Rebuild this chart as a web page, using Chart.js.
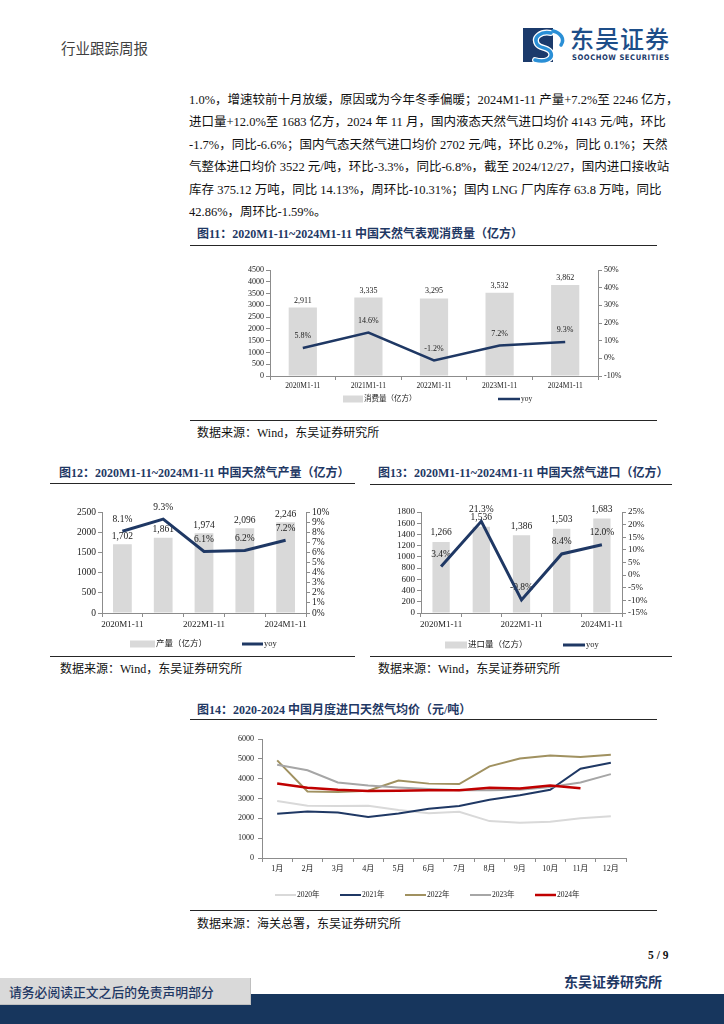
<!DOCTYPE html>
<html>
<head>
<meta charset="utf-8">
<script src="https://cdn.jsdelivr.net/npm/chart.js@4.4.1/dist/chart.umd.min.js"></script>
<style>
  body { margin: 0; width: 724px; height: 1024px; position: relative; overflow: hidden; background: #fff;
         font-family: 'Liberation Serif', 'Noto Sans CJK SC', serif; color: #111; }
  .abs { position: absolute; }
  .txt { position: absolute; left: 189px; width: 468px; font-size: 12.5px; line-height: 16px; white-space: nowrap;
         text-align: justify; text-align-last: justify; }
  .title { position: absolute; font-size: 12px; line-height: 16px; font-weight: bold; color: #1f3864; white-space: nowrap; }
  .rule { position: absolute; height: 0; border-top: 1.5px solid #262626; }
  .src { position: absolute; font-size: 12px; line-height: 16px; white-space: nowrap; color: #111; }
  canvas { position: absolute; }
</style>
</head>
<body>

<!-- header -->
<div class="abs" style="left:61px;top:37px;font-size:14.5px;color:#3f3f3f;font-family:'Noto Sans CJK SC';">行业跟踪周报</div>
<svg class="abs" style="left:521px;top:27px" width="46" height="36" viewBox="0 0 46 36">
  <rect x="2" y="1" width="30" height="34" fill="#1b3a6b"/>
  <path d="M30 6 C20 4 12 10 16 17 C19 22 28 20 30 26 C32 32 24 36 14 33" fill="none" stroke="#fff" stroke-width="6" stroke-linecap="round"/>
  <path d="M30 6 C20 4 12 10 16 17 C19 22 28 20 30 26 C32 32 24 36 14 33" fill="none" stroke="#2a8fd6" stroke-width="3.5" stroke-linecap="round"/>
  <path d="M32 4 C40 6 44 12 40 18" fill="none" stroke="#2a8fd6" stroke-width="3.5" stroke-linecap="round"/>
</svg>
<div class="abs" style="left:570px;top:24px;font-size:24px;line-height:28px;color:#1d4e89;font-family:'Noto Sans CJK SC';font-weight:500;letter-spacing:1px;">东吴证券</div>
<div class="abs" style="left:572px;top:53px;font-size:7.6px;line-height:9px;color:#1b3a6b;font-family:'DejaVu Sans Condensed','DejaVu Sans';font-weight:bold;letter-spacing:0.55px;">SOOCHOW SECURITIES</div>

<!-- body text -->
<div class="txt" style="top:92px">1.0%，增速较前十月放缓，原因或为今年冬季偏暖；2024M1-11 产量+7.2%至 2246 亿方，</div>
<div class="txt" style="top:114px">进口量+12.0%至 1683 亿方，2024 年 11 月，国内液态天然气进口均价 4143 元/吨，环比</div>
<div class="txt" style="top:137px">-1.7%，同比-6.6%；国内气态天然气进口均价 2702 元/吨，环比 0.2%，同比 0.1%；天然</div>
<div class="txt" style="top:159px">气整体进口均价 3522 元/吨，环比-3.3%，同比-6.8%，截至 2024/12/27，国内进口接收站</div>
<div class="txt" style="top:182px">库存 375.12 万吨，同比 14.13%，周环比-10.31%；国内 LNG 厂内库存 63.8 万吨，同比</div>
<div class="txt" style="top:204px;text-align:left;text-align-last:left">42.86%，周环比-1.59%。</div>

<!-- figure 11 -->
<div class="title" style="left:197px;top:226px">图11：2020M1-11~2024M1-11 中国天然气表观消费量（亿方）</div>
<div class="rule" style="left:190px;width:467px;top:245px"></div>
<canvas id="c11" width="466" height="165" style="left:191px;top:250px"></canvas>
<div class="rule" style="left:190px;width:467px;top:420px"></div>
<div class="src" style="left:197px;top:425px">数据来源：Wind，东吴证券研究所</div>

<!-- figure 12 -->
<div class="title" style="left:59px;top:465px">图12：2020M1-11~2024M1-11 中国天然气产量（亿方）</div>
<div class="rule" style="left:50px;width:305px;top:483px"></div>
<canvas id="c12" width="300" height="165" style="left:55px;top:490px"></canvas>
<div class="rule" style="left:50px;width:305px;top:656px"></div>
<div class="src" style="left:60px;top:661px">数据来源：Wind，东吴证券研究所</div>

<!-- figure 13 -->
<div class="title" style="left:378px;top:465px">图13：2020M1-11~2024M1-11 中国天然气进口（亿方）</div>
<div class="rule" style="left:370px;width:302px;top:484px"></div>
<canvas id="c13" width="300" height="165" style="left:372px;top:490px"></canvas>
<div class="rule" style="left:370px;width:302px;top:656px"></div>
<div class="src" style="left:378px;top:661px">数据来源：Wind，东吴证券研究所</div>

<!-- figure 14 -->
<div class="title" style="left:197px;top:702px">图14：2020-2024 中国月度进口天然气均价（元/吨）</div>
<div class="rule" style="left:190px;width:467px;top:719px"></div>
<canvas id="c14" width="466" height="185" style="left:191px;top:724px"></canvas>
<div class="rule" style="left:190px;width:467px;top:910px"></div>
<div class="src" style="left:197px;top:916px">数据来源：海关总署，东吴证券研究所</div>

<!-- footer -->
<div class="abs" style="left:648px;top:949px;font-size:11.5px;font-weight:bold;">5 / 9</div>
<div class="abs" style="left:0;top:994px;width:724px;height:30px;background:#17365d"></div>
<div class="abs" style="left:0;top:978px;width:250px;height:26px;background:#d9d9d9;border-right:1px solid #bfbfbf;border-bottom:1px solid #bfbfbf"></div>
<div class="abs" style="left:9px;top:983px;font-size:12.8px;line-height:17px;color:#1f3864;font-family:'Noto Sans CJK SC';font-weight:500;">请务必阅读正文之后的免责声明部分</div>
<div class="abs" style="left:564px;top:972px;font-size:14px;line-height:19px;color:#1f3864;font-family:'Noto Sans CJK SC';font-weight:bold;">东吴证券研究所</div>

<script>
// ---- data ----
const cats = ['2020M1-11', '2021M1-11', '2022M1-11', '2023M1-11', '2024M1-11'];
const consumption = [2911, 3335, 3295, 3532, 3862];
const consumptionYoy = [5.8, 14.6, -1.2, 7.2, 9.3];
const production = [1702, 1861, 1974, 2096, 2246];
const productionYoy = [8.1, 9.3, 6.1, 6.2, 7.2];
const imports = [1266, 1536, 1386, 1503, 1683];
const importsYoy = [3.4, 21.3, -9.8, 8.4, 12.0];

const months = ['1月', '2月', '3月', '4月', '5月', '6月', '7月', '8月', '9月', '10月', '11月', '12月'];
const price2020 = [2870, 2640, 2620, 2640, 2420, 2260, 2330, 1860, 1780, 1830, 2000, 2100];
const price2021 = [2230, 2350, 2290, 2070, 2240, 2480, 2620, 2940, 3160, 3440, 4500, 4800];
const price2022 = [4920, 3350, 3330, 3390, 3910, 3750, 3730, 4620, 5020, 5170, 5090, 5210];
const price2023 = [4700, 4420, 3810, 3660, 3560, 3480, 3410, 3410, 3440, 3580, 3810, 4230];
const price2024 = [3760, 3540, 3440, 3380, 3390, 3410, 3420, 3540, 3510, 3660, 3520, null];

const FONT = "'Liberation Serif', 'Noto Sans CJK SC'";
const BAR = '#d9d9d9';
const NAVY = '#1f3864';
const AXIS = '#8c8c8c';

// value labels, drawn right after the bars so the line passes over them
const valueLabels = {
    id: 'valueLabels',
    afterDatasetDraw(chart, args) {
        if (args.index !== 0) return;
        const ctx = chart.ctx;
        chart.data.datasets.forEach((ds, i) => {
            if (!ds.labelFmt) return;
            const meta = chart.getDatasetMeta(i);
            ctx.save();
            ctx.font = ds.labelFont;
            ctx.fillStyle = '#1a1a1a';
            ctx.textAlign = 'center';
            ctx.textBaseline = 'middle';
            meta.data.forEach((el, j) => {
                ctx.fillText(ds.labelFmt(ds.data[j]), el.x, el.y - ds.labelGap);
            });
            ctx.restore();
        });
    }
};

// flat legend with fixed item positions
const flatLegend = {
    id: 'flatLegend',
    afterDraw(chart, args, opts) {
        if (!opts || !opts.items) return;
        const ctx = chart.ctx;
        chart.data.datasets.forEach((ds, i) => {
            const it = opts.items[i];
            ctx.save();
            if (ds.type === 'bar') {
                ctx.fillStyle = ds.backgroundColor;
                ctx.fillRect(it.x, opts.y - it.h / 2, it.w, it.h);
            } else {
                ctx.strokeStyle = ds.borderColor;
                ctx.lineWidth = ds.borderWidth;
                ctx.beginPath();
                ctx.moveTo(it.x, opts.y);
                ctx.lineTo(it.x + it.w, opts.y);
                ctx.stroke();
            }
            ctx.font = opts.font;
            ctx.fillStyle = '#1a1a1a';
            ctx.textAlign = 'left';
            ctx.textBaseline = 'middle';
            ctx.fillText(ds.label, it.x + it.w + 1, opts.y);
            ctx.restore();
        });
    }
};

Chart.register(valueLabels, flatLegend);

function axisBase(fontSize) {
    return {
        grid: { drawOnChartArea: false, drawTicks: true, tickLength: 4, color: AXIS },
        border: { color: AXIS, width: 1 },
        ticks: { font: { family: FONT, size: fontSize }, color: '#1a1a1a', padding: 2, autoSkip: false }
    };
}

function comboChart(id, c) {
    const x = axisBase(c.xFont);
    x.grid.offset = true;
    x.ticks.maxRotation = 0;
    x.ticks.callback = (v, i) => (c.everyOther && i % 2) ? '' : cats[i];
    x.afterFit = s => { s.height = c.xh; };

    const y = axisBase(c.tickFont);
    Object.assign(y, { position: 'left', min: c.yMin, max: c.yMax });
    y.ticks.stepSize = c.yStep;
    y.ticks.callback = v => String(v);
    y.afterFit = s => { s.width = c.lw; };

    const y1 = axisBase(c.tickFont);
    Object.assign(y1, { position: 'right', min: c.pMin, max: c.pMax });
    y1.ticks.stepSize = c.pStep;
    y1.ticks.callback = v => v + '%';
    y1.afterFit = s => { s.width = c.rw; };

    return new Chart(document.getElementById(id), {
        data: {
            labels: cats,
            datasets: [
                {
                    type: 'bar', label: c.barLabel, data: c.bars, backgroundColor: BAR,
                    yAxisID: 'y', order: 2, barPercentage: c.barPct, categoryPercentage: 1,
                    labelFmt: v => v.toLocaleString('en-US'), labelGap: c.barGap,
                    labelFont: c.labelFont + 'px ' + FONT
                },
                {
                    type: 'line', label: 'yoy', data: c.yoy, borderColor: NAVY, backgroundColor: NAVY,
                    borderWidth: c.lineW, pointRadius: 0, tension: 0, yAxisID: 'y1', order: 1,
                    labelFmt: v => v.toFixed(1) + '%', labelGap: c.lineGap,
                    labelFont: c.labelFont + 'px ' + FONT
                }
            ]
        },
        options: {
            responsive: false,
            animation: false,
            layout: { padding: c.pad },
            plugins: {
                legend: { display: false },
                tooltip: { enabled: false },
                flatLegend: { y: c.legendY, font: c.legendFont + 'px ' + FONT, items: c.legendItems }
            },
            scales: { x, y, y1 }
        }
    });
}

comboChart('c11', {
    bars: consumption, yoy: consumptionYoy, barLabel: '消费量（亿方）',
    yMin: 0, yMax: 4500, yStep: 500, pMin: -10, pMax: 50, pStep: 10,
    lw: 79, rw: 59, xh: 15, pad: { top: 20, bottom: 24, left: 0, right: 0 },
    barPct: 0.43, lineW: 2.5, barGap: 7, lineGap: 12,
    tickFont: 8, xFont: 7.5, labelFont: 8, legendFont: 7.5, everyOther: false,
    legendY: 149, legendItems: [{ x: 152, w: 20, h: 7 }, { x: 307, w: 22 }]
});

comboChart('c12', {
    bars: production, yoy: productionYoy, barLabel: '产量（亿方）',
    yMin: 0, yMax: 2500, yStep: 500, pMin: 0, pMax: 10, pStep: 1,
    lw: 47, rw: 49, xh: 16, pad: { top: 22, bottom: 26, left: 0, right: 0 },
    barPct: 0.46, lineW: 3, barGap: 8, lineGap: 12,
    tickFont: 9.5, xFont: 9, labelFont: 9.5, legendFont: 8.5, everyOther: true,
    legendY: 154, legendItems: [{ x: 75, w: 25, h: 7 }, { x: 187, w: 21 }]
});

comboChart('c13', {
    bars: imports, yoy: importsYoy, barLabel: '进口量（亿方）',
    yMin: 0, yMax: 1800, yStep: 200, pMin: -15, pMax: 25, pStep: 5,
    lw: 49, rw: 50, xh: 16, pad: { top: 22, bottom: 26, left: 0, right: 0 },
    barPct: 0.43, lineW: 3, barGap: 9, lineGap: 12,
    tickFont: 9, xFont: 9, labelFont: 9.5, legendFont: 8.5, everyOther: true,
    legendY: 155, legendItems: [{ x: 73, w: 22, h: 7 }, { x: 191, w: 22 }]
});

// figure 14
(function () {
    const x = axisBase(8);
    x.offset = true;
    x.grid.offset = true;
    x.ticks.maxRotation = 0;
    x.afterFit = s => { s.height = 18; };
    const y = axisBase(8);
    Object.assign(y, { min: 0, max: 6000 });
    y.ticks.stepSize = 1000;
    y.ticks.padding = 4;
    y.ticks.callback = v => String(v);
    y.afterFit = s => { s.width = 71; };

    const series = [
        ['2020年', price2020, '#d9d9d9', 2, 5],
        ['2021年', price2021, '#1f3864', 2, 4],
        ['2022年', price2022, '#a09160', 2, 3],
        ['2023年', price2023, '#a6a6a6', 2, 2],
        ['2024年', price2024, '#c00000', 2.5, 1]
    ];

    new Chart(document.getElementById('c14'), {
        type: 'line',
        data: {
            labels: months,
            datasets: series.map(s => ({
                type: 'line', label: s[0], data: s[1], borderColor: s[2], backgroundColor: s[2],
                borderWidth: s[3], order: s[4], pointRadius: 0, tension: 0, spanGaps: false
            }))
        },
        options: {
            responsive: false,
            animation: false,
            layout: { padding: { top: 15, bottom: 33, left: 0, right: 31 } },
            plugins: {
                legend: { display: false },
                tooltip: { enabled: false },
                flatLegend: {
                    y: 171, font: '7.5px ' + FONT,
                    items: [{ x: 84, w: 21 }, { x: 149, w: 21 }, { x: 214, w: 21 }, { x: 279, w: 21 }, { x: 344, w: 21 }]
                }
            },
            scales: { x, y }
        }
    });
})();
</script>
</body>
</html>
